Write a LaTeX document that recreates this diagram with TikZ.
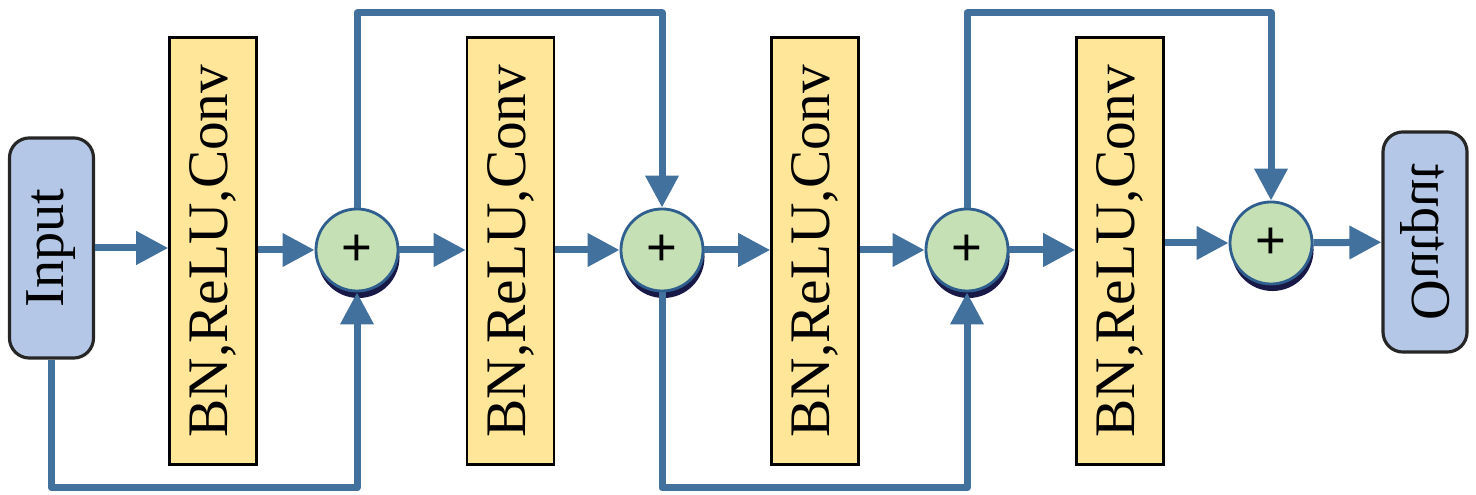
\documentclass[tikz,border=0pt]{standalone}
\usepackage{fontspec}
\setmainfont{Liberation Serif}
\newfontfamily\plusfont{Liberation Sans}
\usepackage{tikz}
\usetikzlibrary{arrows.meta,calc,positioning,shadows}

\definecolor{skipblue}{HTML}{41719C}
\definecolor{ioblue}{HTML}{B4C7E7}
\definecolor{bnyellow}{HTML}{FFE699}
\definecolor{addgreen}{HTML}{C5E0B4}
\definecolor{ringblue}{HTML}{2F5F8F}

\tikzset{
  iobox/.style={draw=black!85, line width=0.9pt, fill=ioblue, rounded corners=0.2cm,
    minimum width=0.84cm, minimum height=2.2cm, inner sep=0pt, font=\fontsize{16}{18}\selectfont},
  bnbox/.style={draw=black, line width=0.7pt, fill=bnyellow,
    minimum width=0.87cm, minimum height=4.27cm, inner sep=0pt, font=\fontsize{16.3}{18}\selectfont},
  addnode/.style={circle, draw=ringblue, line width=0.8pt, fill=addgreen,
    minimum size=0.82cm, inner sep=0pt, font=\plusfont\fontsize{15}{15}\selectfont,
    drop shadow={shadow xshift=0.015cm, shadow yshift=-0.07cm, fill=black!80!blue, opacity=0.9}},
  flow/.style={draw=skipblue, line width=0.07cm, line join=round,
    -{Triangle[length=0.32cm,width=0.32cm]}},
}

\begin{document}
\begin{tikzpicture}[x=0.01cm,y=-0.01cm]
	\useasboundingbox (0,0) rectangle (1476,495);
	
	% blocks
	\node[iobox] (in) at (51.5,248) {\rotatebox{90}{Input}};
	\node[bnbox] (bn1) at (213,251) {\rotatebox{90}{BN,ReLU,Conv}};
	\node[addnode] (add1) at (357,250) {+};
	\node[bnbox] (bn2) at (510.5,251) {\rotatebox{90}{BN,ReLU,Conv}};
	\node[addnode] (add2) at (662,250) {+};
	\node[bnbox] (bn3) at (815,251) {\rotatebox{90}{BN,ReLU,Conv}};
	\node[addnode] (add3) at (967,250) {+};
	\node[bnbox] (bn4) at (1120,251) {\rotatebox{90}{BN,ReLU,Conv}};
	\node[addnode] (add4) at (1271,243) {+};
	\node[iobox] (out) at (1425,242) {\rotatebox{-90}{\reflectbox{Output}}};
	
	\coordinate (toprail) at (0,13);
	\coordinate (lowrail) at (0,488);
	
	% main path
	\draw[flow] (in.east) -- (in.east -| bn1.west);
	\draw[flow] (bn1.east |- add1) -- (add1);
	\draw[flow] (add1) -- (add1 -| bn2.west);
	\draw[flow] (bn2.east |- add2) -- (add2);
	\draw[flow] (add2) -- (add2 -| bn3.west);
	\draw[flow] (bn3.east |- add3) -- (add3);
	\draw[flow] (add3) -- (add3 -| bn4.west);
	\draw[flow] (bn4.east |- add4) -- (add4);
	\draw[flow] (add4) -- (out);
	
	% skip connections
	\draw[flow] (in.south) |- (lowrail -| add1) -- (add1.south);
	\draw[flow] (add1.north) |- (toprail -| add2) -- (add2.north);
	\draw[flow] (add2.south) |- (lowrail -| add3) -- (add3.south);
	\draw[flow] (add3.north) |- (toprail -| add4) -- (add4.north);
\end{tikzpicture}
\end{document}
